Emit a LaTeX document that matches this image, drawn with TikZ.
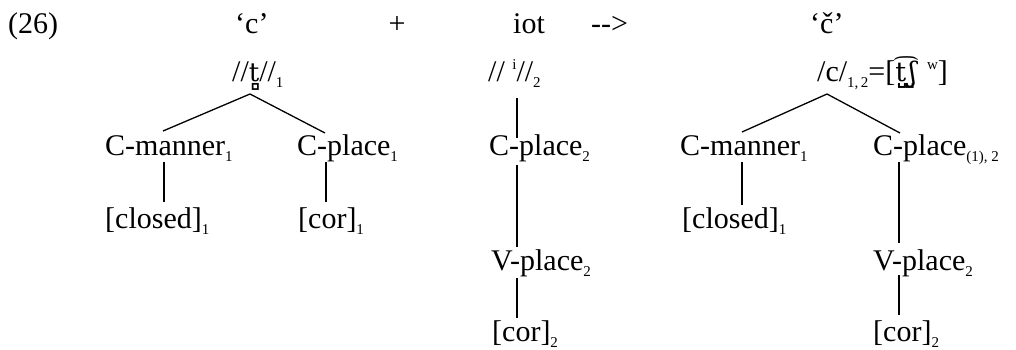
\documentclass[tikz,border=0pt]{standalone}
\usepackage{fontspec}
\setmainfont{Liberation Serif}
\newfontfamily\ipafont{DejaVu Serif}
\usetikzlibrary{calc}
\newcommand\lsub[1]{\raisebox{-6pt}{\fontsize{15}{15}\selectfont #1}}
\newcommand\lsup[1]{\raisebox{12pt}{\fontsize{15}{15}\selectfont #1}}
\begin{document}
\begin{tikzpicture}[x=1pt,y=-1pt,
  lab/.style={anchor=base west,inner sep=0pt,font=\fontsize{30}{36}\selectfont},
  edge/.style={line width=1.3pt}]
\useasboundingbox (0,0) rectangle (1016,349);
% top row
\node[lab] (ex) at (8,33) {(26)};
\node[lab] (c) at (235,33) {‘c’};
\node[lab,anchor=base] (plus) at (397,33) {+};
\node[lab] (iot) at (513,33) {iot};
\node[lab] (arr) at (591,33) {-{}-{}>};
\node[lab] (cc) at (810,33) {‘č’};
% second row
\node[lab] (tt) at (232,81) {//{\ipafont\fontsize{26}{30}\selectfont t̻}//\lsub{1}};
\node[lab] (ii) at (488,81) {// \lsup{i}//\lsub{2}};
\node[lab] (cr) at (817,81) {/c/\lsub{1,\,2}=[{\ipafont\fontsize{27}{30}\selectfont t̺͡\kern3pt ʃ̺}\kern3pt\ \lsup{w}]};
% left tree
\node[lab] (cm1) at (105,155) {C-manner\lsub{1}};
\node[lab] (cp1) at (297,155) {C-place\lsub{1}};
\node[lab] (cl1) at (105,228) {[closed]\lsub{1}};
\node[lab] (co1) at (298,228) {[cor]\lsub{1}};
% middle
\node[lab] (cp2) at (489,155) {C-place\lsub{2}};
\node[lab] (vp2) at (491,270) {V-place\lsub{2}};
\node[lab] (co2) at (492,341) {[cor]\lsub{2}};
% right tree
\node[lab] (cm3) at (680,155) {C-manner\lsub{1}};
\node[lab] (cp3) at (873,155) {C-place\lsub{(1), 2}};
\node[lab] (cl3) at (682,228) {[closed]\lsub{1}};
\node[lab] (vp3) at (873,270) {V-place\lsub{2}};
\node[lab] (co3) at (873,341) {[cor]\lsub{2}};
% connectors
\coordinate (apL) at ($(tt.base west)+(18,13)$);
\draw[edge] ($(cm1.base west)+(58,-24)$) -- (apL) -- ($(cp1.base west)+(28,-22)$);
\draw[edge] ($(cm1.base west)+(59,7)$) -- ($(cl1.base west)+(59,-26)$);
\draw[edge] ($(cp1.base west)+(29,7)$) -- ($(co1.base west)+(28,-26)$);
\draw[edge] ($(ii.base west)+(29,17)$) -- ($(cp2.base west)+(28,-17)$);
\draw[edge] ($(cp2.base west)+(28,10)$) -- ($(vp2.base west)+(26,-23)$);
\draw[edge] ($(vp2.base west)+(26,8)$) -- ($(co2.base west)+(25,-23)$);
\coordinate (apR) at ($(cr.base west)+(10,13)$);
\draw[edge] ($(cm3.base west)+(62,-23)$) -- (apR) -- ($(cp3.base west)+(27,-22)$);
\draw[edge] ($(cm3.base west)+(62,7)$) -- ($(cl3.base west)+(60,-23)$);
\draw[edge] ($(cp3.base west)+(26,7)$) -- ($(vp3.base west)+(26,-27)$);
\draw[edge] ($(vp3.base west)+(26,5)$) -- ($(co3.base west)+(26,-26)$);
\end{tikzpicture}
\end{document}
